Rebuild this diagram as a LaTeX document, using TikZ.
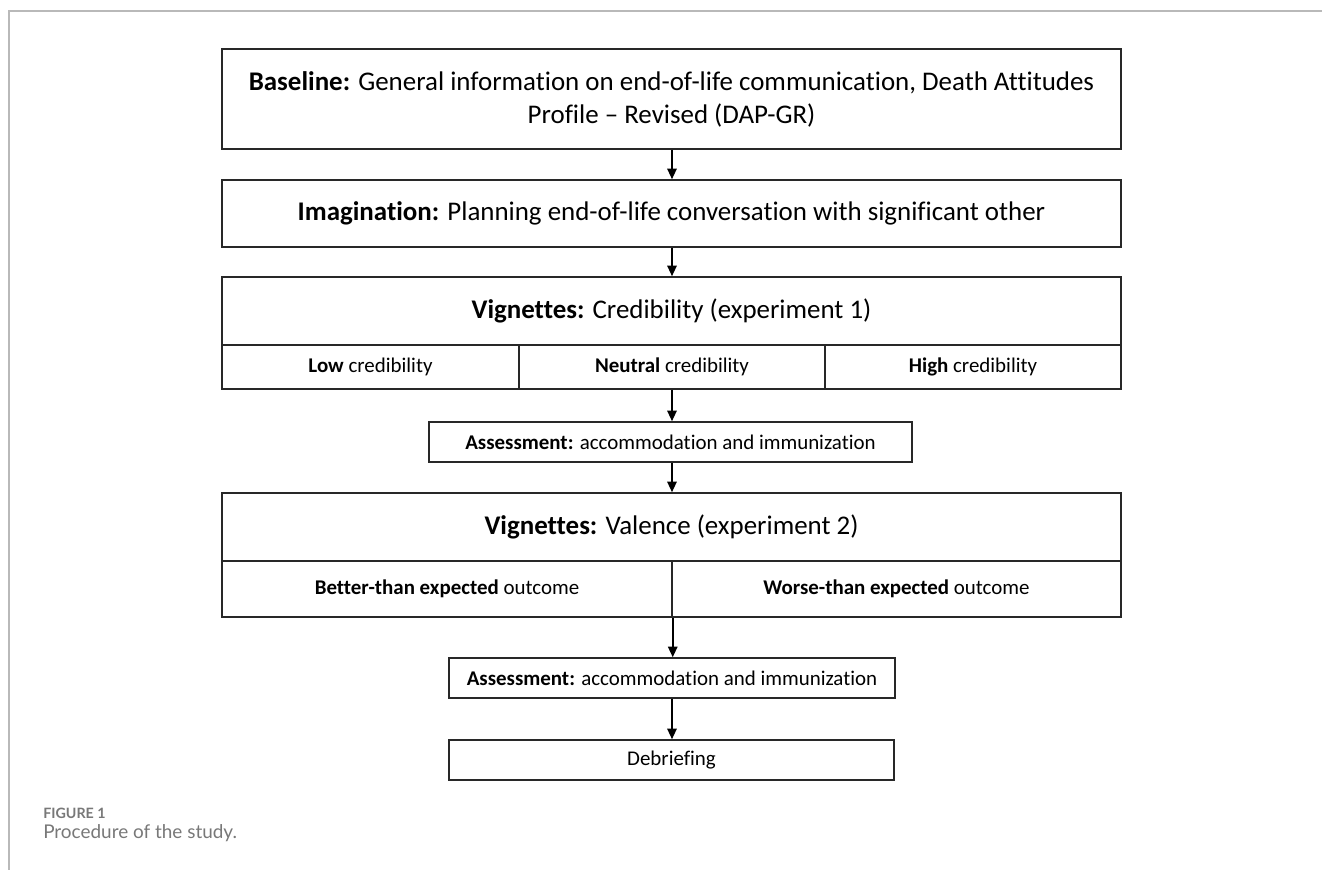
\documentclass[tikz,border=0pt]{standalone}
\usepackage{fontspec}
\setmainfont{Carlito}[Ligatures=NoCommon]
\newfontfamily\captionfont{Lato}
\usetikzlibrary{positioning, arrows.meta}
\definecolor{FrameGray}{RGB}{185,185,185}
\definecolor{CaptionGray}{RGB}{120,120,120}
\definecolor{BoxLine}{RGB}{40,40,40}

\tikzset{
  stage/.style={draw=BoxLine, line width=1.1pt, align=center, inner sep=0pt},
  bigtext/.style={font=\fontsize{20.2}{24.75}\selectfont},
  smalltext/.style={font=\fontsize{15.7}{18}\selectfont},
  flow/.style={-{Triangle[length=8pt, width=7pt]}, line width=1.5pt, black}
}

\begin{document}
\begin{tikzpicture}[x=0.75pt, y=-0.75pt]
    % Frame
    \useasboundingbox (0,0) rectangle (1322,870);
    \draw[FrameGray, line width=1.2pt] (1322,11) -- (9,11) -- (9,870);

    % Stage boxes
    \node[stage, bigtext, minimum width=674.25pt, minimum height=75pt] (baseline) at (671.5,99)
      {\textbf{Baseline:} General information on end-of-life communication, Death Attitudes\\ Profile -- Revised (DAP-GR)};
    \node[stage, bigtext, minimum width=674.25pt, minimum height=50.25pt] (imagination) at (671.5,213.5)
      {\textbf{Imagination:} Planning end-of-life conversation with significant other};

    % Experiment 1
    \node[stage, bigtext, minimum width=674.25pt, minimum height=51pt] (credibility) at (671.5,311)
      {\textbf{Vignettes:} Credibility (experiment 1)};
    \node[stage, smalltext, minimum width=222.75pt, minimum height=33pt] (lowcred) at (370.5,367)
      {\textbf{Low} credibility};
    \node[stage, smalltext, minimum width=229.5pt, minimum height=33pt] (neutralcred) at (672,367)
      {\textbf{Neutral} credibility};
    \node[stage, smalltext, minimum width=222pt, minimum height=33pt] (highcred) at (973,367)
      {\textbf{High} credibility};
    \node[stage, smalltext, minimum width=362.25pt, minimum height=30pt] (assessone) at (670.5,442)
      {\textbf{Assessment:} accommodation and immunization};

    % Experiment 2
    \node[stage, bigtext, minimum width=674.25pt, minimum height=51pt] (valence) at (671.5,527)
      {\textbf{Vignettes:} Valence (experiment 2)};
    \node[stage, smalltext, minimum width=337.5pt, minimum height=42pt] (better) at (447,589)
      {\textbf{Better-than expected} outcome};
    \node[stage, smalltext, minimum width=336.75pt, minimum height=42pt] (worse) at (896.5,589)
      {\textbf{Worse-than expected} outcome};
    \node[stage, smalltext, minimum width=334.5pt, minimum height=30pt] (assesstwo) at (672,678)
      {\textbf{Assessment:} accommodation and immunization};
    \node[stage, smalltext, minimum width=333.75pt, minimum height=30pt] (debriefing) at (671.5,760)
      {Debriefing};

    % Arrows
    \draw[flow] (baseline.south -| 672,0) -- (imagination.north -| 672,0);
    \draw[flow] (imagination.south -| 672,0) -- (credibility.north -| 672,0);
    \draw[flow] (neutralcred.south) -- (neutralcred.south |- assessone.north);
    \draw[flow] (assessone.south -| 672,0) -- (valence.north -| 672,0);
    \draw[flow] (better.south east) -- (better.south east |- assesstwo.north);
    \draw[flow] (assesstwo.south) -- (debriefing.north -| assesstwo.south);

    % Caption
    \node[anchor=base west, inner sep=0pt, text=CaptionGray, font=\captionfont\fontsize{10.7}{12}\selectfont\bfseries] (figlabel) at (43,818) {FIGURE 1};
    \node[anchor=base west, inner sep=0pt, text=CaptionGray, font=\captionfont\fontsize{14.2}{16}\selectfont] (figcaption) at (43,838) {Procedure of the study.};
\end{tikzpicture}
\end{document}
